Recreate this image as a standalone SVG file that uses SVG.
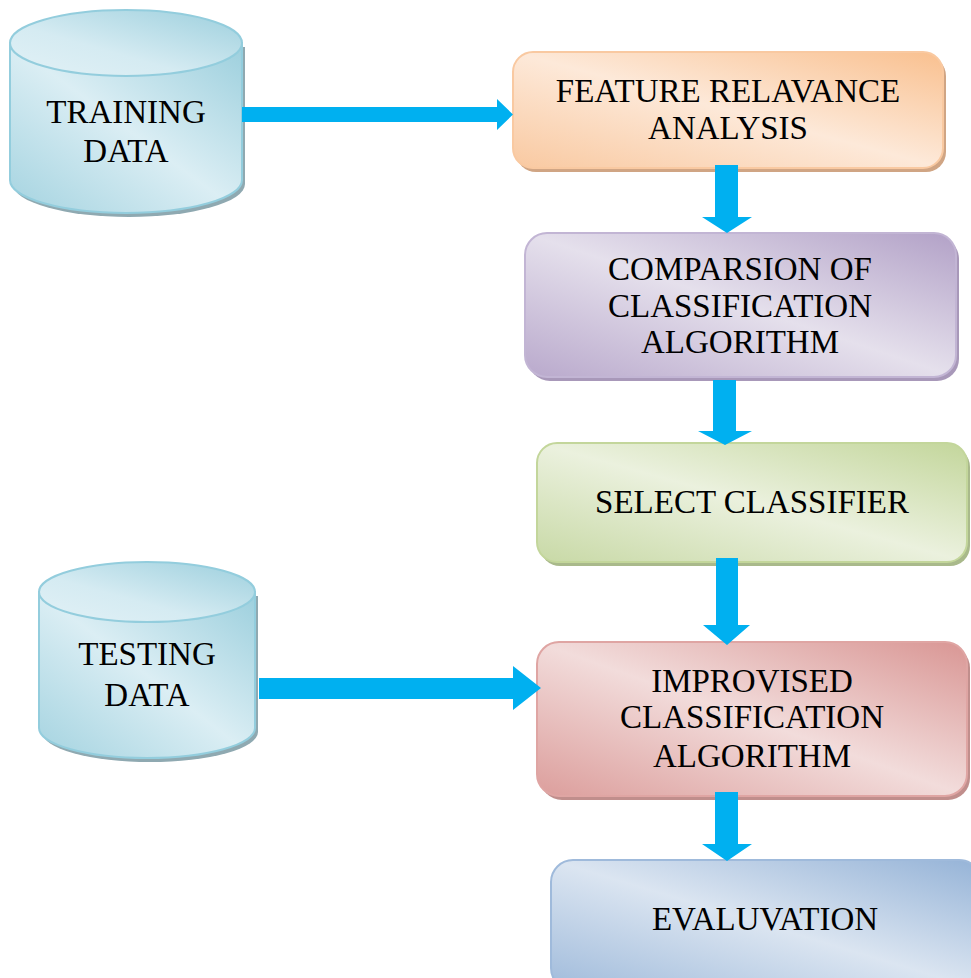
<svg xmlns="http://www.w3.org/2000/svg" width="971" height="978" viewBox="0 0 971 978">
<style>
text{font-family:"Liberation Serif","Times New Roman",serif;font-size:33px;fill:#000;text-anchor:middle}
.arrow{fill:#00b0f0}
.cyl{stroke:#93cddd;stroke-width:2}
.box{stroke-width:2}
</style>
<defs>
<linearGradient id="gCyl" x1="1" y1="0" x2="0" y2="1">
<stop offset="0" stop-color="#9ccfdd"/><stop offset="0.5" stop-color="#dbeef4"/><stop offset="1" stop-color="#a4d3e0"/>
</linearGradient>
<linearGradient id="gCylTop" x1="1" y1="0" x2="0" y2="1">
<stop offset="0" stop-color="#9ccfdd"/><stop offset="0.6" stop-color="#d5ebf2"/><stop offset="1" stop-color="#e2f1f6"/>
</linearGradient>
<linearGradient id="gOr" x1="1" y1="0" x2="0" y2="1">
<stop offset="0" stop-color="#f9c08f"/><stop offset="0.5" stop-color="#fde9d9"/><stop offset="1" stop-color="#f9c9a1"/>
</linearGradient>
<linearGradient id="gPu" x1="1" y1="0" x2="0" y2="1">
<stop offset="0" stop-color="#b2a1c7"/><stop offset="0.5" stop-color="#e5e0ec"/><stop offset="1" stop-color="#b9a9cc"/>
</linearGradient>
<linearGradient id="gGr" x1="1" y1="0" x2="0" y2="1">
<stop offset="0" stop-color="#c3d69b"/><stop offset="0.5" stop-color="#ebf1de"/><stop offset="1" stop-color="#c8d9a6"/>
</linearGradient>
<linearGradient id="gRd" x1="1" y1="0" x2="0" y2="1">
<stop offset="0" stop-color="#d99694"/><stop offset="0.5" stop-color="#f2dcdb"/><stop offset="1" stop-color="#dc9e9c"/>
</linearGradient>
<linearGradient id="gBl" x1="1" y1="0" x2="0" y2="1">
<stop offset="0" stop-color="#95b3d7"/><stop offset="0.5" stop-color="#dbe5f1"/><stop offset="1" stop-color="#a0bbdb"/>
</linearGradient>
</defs>

<g id="training-data">
<path d="M13,47 V184 A116,33 0 0 0 245,184 V47 Z" fill="#8fa9b1"/>
<path d="M10,43 V180 A116,33 0 0 0 242,180 V43 Z" class="cyl" fill="url(#gCyl)"/>
<ellipse cx="126" cy="43" rx="116" ry="33" class="cyl" fill="url(#gCylTop)"/>
<text x="126" y="123">TRAINING</text>
<text x="126" y="162">DATA</text>
</g>

<g id="testing-data">
<path d="M42,596 V732 A108,30 0 0 0 258,732 V596 Z" fill="#8fa9b1"/>
<path d="M39,592 V728 A108,30 0 0 0 255,728 V592 Z" class="cyl" fill="url(#gCyl)"/>
<ellipse cx="147" cy="592" rx="108" ry="30" class="cyl" fill="url(#gCylTop)"/>
<text x="147" y="665">TESTING</text>
<text x="147" y="706">DATA</text>
</g>

<g id="feature-relevance">
<rect x="516" y="56" width="430" height="116" rx="20" fill="#d0a584"/>
<rect x="513" y="52" width="430" height="116" rx="20" class="box" stroke="#f9c9a1" fill="url(#gOr)"/>
<text x="728" y="102">FEATURE RELAVANCE</text>
<text x="728" y="139">ANALYSIS</text>
</g>

<g id="comparison">
<rect x="528" y="237" width="431" height="144" rx="22" fill="#a898b9"/>
<rect x="525" y="233" width="431" height="144" rx="22" class="box" stroke="#c2b5d4" fill="url(#gPu)"/>
<text x="740" y="280">COMPARSION OF</text>
<text x="740" y="317">CLASSIFICATION</text>
<text x="740" y="353">ALGORITHM</text>
</g>

<g id="select-classifier">
<rect x="540" y="447" width="430" height="119" rx="20" fill="#a9b98b"/>
<rect x="537" y="443" width="430" height="119" rx="20" class="box" stroke="#c3d69b" fill="url(#gGr)"/>
<text x="752" y="513">SELECT CLASSIFIER</text>
</g>

<g id="improvised">
<rect x="540" y="646" width="430" height="154" rx="22" fill="#c08e8c"/>
<rect x="537" y="642" width="430" height="154" rx="22" class="box" stroke="#dfa5a3" fill="url(#gRd)"/>
<text x="752" y="692">IMPROVISED</text>
<text x="752" y="728">CLASSIFICATION</text>
<text x="752" y="767">ALGORITHM</text>
</g>

<g id="evaluation">
<rect x="554" y="864" width="430" height="130" rx="22" fill="#8ea5c2"/>
<rect x="551" y="860" width="430" height="130" rx="22" class="box" stroke="#9fbadb" fill="url(#gBl)"/>
<text x="765" y="930">EVALUVATION</text>
</g>

<g id="connectors">
<polygon class="arrow" points="242,107 497,107 497,99 513,114.5 497,130 497,122 242,122"/>
<polygon class="arrow" points="259,678 513,678 513,666 541,688 513,710 513,699 259,699"/>
<polygon class="arrow" points="715,165 738,165 738,217 752,217 727,233 702,217 715,217"/>
<polygon class="arrow" points="713,380 736,380 736,431 752,431 725,445 698,431 713,431"/>
<polygon class="arrow" points="716,558 738,558 738,625 750,625 727,645 703,625 716,625"/>
<polygon class="arrow" points="715,792 738,792 738,844 752,844 727,861 702,844 715,844"/>
</g>
</svg>
